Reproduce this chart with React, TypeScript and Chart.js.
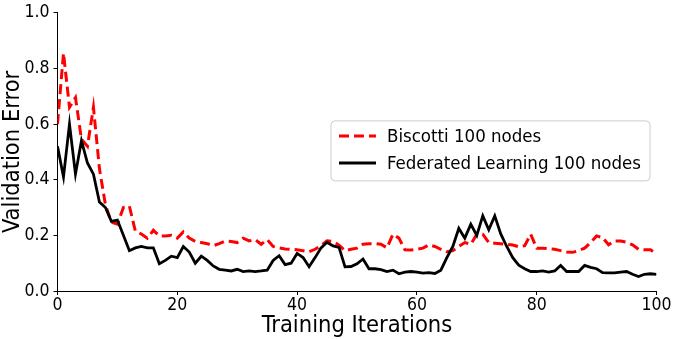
import React, { useEffect, useRef } from "react";
import { Chart, registerables } from "chart.js";

Chart.register(...registerables);

const iterations: number[] = Array.from({ length: 101 }, (_, i) => i);

const biscotti: number[] = [
  0.6, 0.855, 0.66, 0.695, 0.545, 0.52, 0.66, 0.44, 0.31, 0.247,
  0.24, 0.3, 0.305, 0.215, 0.205, 0.19, 0.218, 0.198, 0.198, 0.2,
  0.19, 0.212, 0.19, 0.178, 0.174, 0.17, 0.163, 0.17, 0.18, 0.178,
  0.174, 0.19, 0.18, 0.185, 0.168, 0.185, 0.16, 0.155, 0.151, 0.15,
  0.148, 0.145, 0.141, 0.15, 0.163, 0.18, 0.178, 0.165, 0.145, 0.15,
  0.154, 0.168, 0.17, 0.17, 0.168, 0.155, 0.204, 0.19, 0.148, 0.147,
  0.15, 0.154, 0.166, 0.16, 0.15, 0.141, 0.145, 0.16, 0.174, 0.168,
  0.204, 0.204, 0.174, 0.172, 0.17, 0.168, 0.165, 0.159, 0.163, 0.204,
  0.154, 0.154, 0.152, 0.15, 0.145, 0.14, 0.139, 0.145, 0.154, 0.174,
  0.198, 0.192, 0.166, 0.18, 0.18, 0.175, 0.166, 0.15, 0.148, 0.148,
  0.133,
];

const federated: number[] = [
  0.52, 0.41, 0.6, 0.42, 0.54, 0.46, 0.42, 0.32, 0.3, 0.25,
  0.255, 0.2, 0.145, 0.155, 0.16, 0.155, 0.155, 0.098, 0.11, 0.125,
  0.12, 0.16, 0.14, 0.1, 0.125, 0.11, 0.09, 0.078, 0.075, 0.072,
  0.078, 0.07, 0.072, 0.07, 0.072, 0.075, 0.11, 0.127, 0.095, 0.1,
  0.135, 0.12, 0.087, 0.12, 0.155, 0.175, 0.162, 0.157, 0.087, 0.088,
  0.098, 0.115, 0.08, 0.08, 0.077, 0.07, 0.075, 0.062, 0.068, 0.07,
  0.068, 0.064, 0.066, 0.063, 0.075, 0.12, 0.16, 0.225, 0.19, 0.24,
  0.2, 0.27, 0.22, 0.27, 0.205, 0.16, 0.12, 0.093, 0.08, 0.07,
  0.07, 0.072, 0.068, 0.072, 0.092, 0.07, 0.07, 0.07, 0.092, 0.085,
  0.08, 0.066, 0.065, 0.065, 0.068, 0.07, 0.06, 0.052, 0.06, 0.062,
  0.06,
];

const seriesLabels = ["Biscotti 100 nodes", "Federated Learning 100 nodes"];
const xTitle = "Training Iterations";
const yTitle = "Validation Error";

const FONT = "'DejaVu Sans Condensed', 'DejaVu Sans', sans-serif";

const legendPlugin = {
  id: "mplLegend",
  afterDraw(chart: any) {
    const { ctx, chartArea } = chart;
    ctx.save();
    ctx.font = `18.5px ${FONT}`;
    const textW = Math.max(...seriesLabels.map((t) => ctx.measureText(t).width));
    const handle = 37;
    const gap = 11;
    const padL = 8;
    const padR = 9;
    const rowH = 27;
    const boxH = 60;
    const boxW = padL + handle + gap + textW + padR;
    const right = chartArea.right - 6.5;
    const left = right - boxW;
    const cy = (chartArea.top + chartArea.bottom) / 2;
    const top = cy - boxH / 2 - 1;
    const r = 4;
    ctx.beginPath();
    ctx.moveTo(left + r, top);
    ctx.lineTo(left + boxW - r, top);
    ctx.arcTo(left + boxW, top, left + boxW, top + r, r);
    ctx.lineTo(left + boxW, top + boxH - r);
    ctx.arcTo(left + boxW, top + boxH, left + boxW - r, top + boxH, r);
    ctx.lineTo(left + r, top + boxH);
    ctx.arcTo(left, top + boxH, left, top + boxH - r, r);
    ctx.lineTo(left, top + r);
    ctx.arcTo(left, top, left + r, top, r);
    ctx.closePath();
    ctx.fillStyle = "rgba(255,255,255,0.8)";
    ctx.fill();
    ctx.strokeStyle = "#cccccc";
    ctx.lineWidth = 1;
    ctx.stroke();

    const rows = [
      { color: "#ff0000", dash: [10, 5], label: seriesLabels[0] },
      { color: "#000000", dash: [], label: seriesLabels[1] },
    ];
    rows.forEach((row, i) => {
      const y = top + 15 + i * rowH;
      ctx.beginPath();
      ctx.setLineDash(row.dash);
      ctx.strokeStyle = row.color;
      ctx.lineWidth = 3;
      ctx.moveTo(left + padL, y);
      ctx.lineTo(left + padL + handle, y);
      ctx.stroke();
      ctx.setLineDash([]);
      ctx.fillStyle = "#000";
      ctx.textBaseline = "middle";
      ctx.textAlign = "left";
      ctx.fillText(row.label, left + padL + handle + gap, y + 1);
    });
    ctx.restore();
  },
};

export default function App() {
  const ref = useRef<HTMLCanvasElement | null>(null);

  useEffect(() => {
    document.body.style.margin = "0";
    const canvas = ref.current;
    if (!canvas) return;
    const chart = new Chart(canvas, {
      type: "line",
      data: {
        datasets: [
          {
            label: seriesLabels[1],
            data: iterations.map((x, i) => ({ x, y: federated[i] })),
            borderColor: "#000000",
            borderWidth: 2.8,
            pointRadius: 0,
            tension: 0,
            fill: false,
            order: 0,
          },
          {
            label: seriesLabels[0],
            data: iterations.map((x, i) => ({ x, y: biscotti[i] })),
            borderColor: "#ff0000",
            borderWidth: 3,
            borderDash: [10, 5],
            pointRadius: 0,
            tension: 0,
            fill: false,
            order: 1,
          },
        ],
      },
      options: {
        animation: false,
        responsive: false,
        devicePixelRatio: 1,
        layout: { padding: { top: 8, right: 18.5, left: 0, bottom: 0 } },
        plugins: {
          legend: { display: false },
          tooltip: { enabled: false },
        },
        scales: {
          x: {
            type: "linear",
            min: 0,
            max: 100,
            ticks: {
              stepSize: 20,
              color: "#000",
              font: { family: FONT, size: 17.5, lineHeight: 1 },
              padding: 2,
              maxRotation: 0,
            },
            grid: {
              display: true,
              drawOnChartArea: false,
              drawTicks: true,
              tickLength: 4,
              color: "#000",
            },
            border: { display: true, color: "#000", width: 1 },
            title: {
              display: true,
              text: xTitle,
              color: "#000",
              font: { family: FONT, size: 23.5, lineHeight: 1 },
              padding: { top: 0, bottom: 1 },
            },
            afterFit(scale: any) {
              scale.height = 48;
            },
          },
          y: {
            type: "linear",
            min: 0,
            max: 1,
            ticks: {
              stepSize: 0.2,
              color: "#000",
              font: { family: FONT, size: 17.5, lineHeight: 1 },
              padding: 4,
              callback: (v: any) => Number(v).toFixed(1),
            },
            grid: {
              display: true,
              drawOnChartArea: false,
              drawTicks: true,
              tickLength: 4,
              color: "#000",
            },
            border: { display: true, color: "#000", width: 1 },
            title: {
              display: true,
              text: yTitle,
              color: "#000",
              font: { family: FONT, size: 23.5, lineHeight: 1 },
              padding: { top: 1, bottom: 0 },
            },
            afterFit(scale: any) {
              scale.width = 57.5;
            },
          },
        },
      },
      plugins: [legendPlugin],
    });
    return () => chart.destroy();
  }, []);

  return <canvas ref={ref} width={675} height={339} style={{ display: "block" }} />;
}
